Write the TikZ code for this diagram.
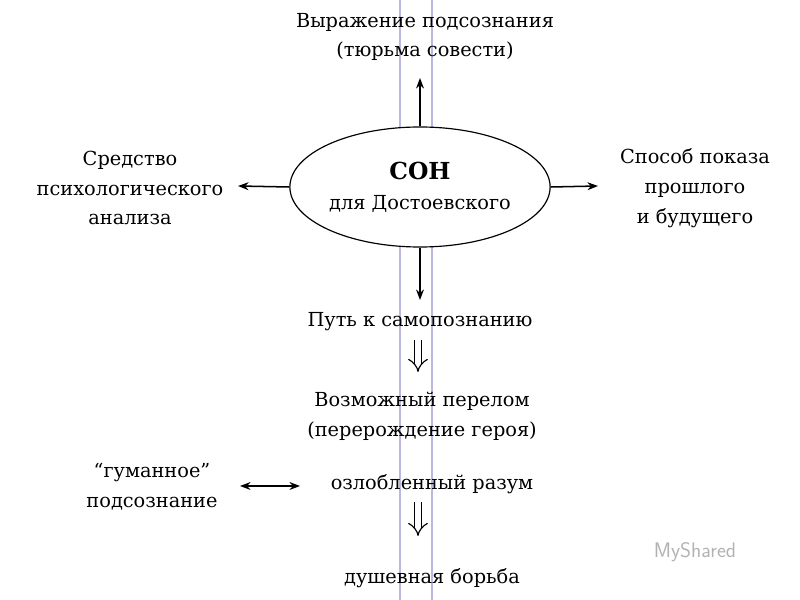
\documentclass[tikz,border=0pt]{standalone}
\usepackage{fontspec}
\setmainfont{DejaVu Serif}
\usetikzlibrary{arrows.meta,positioning,shapes.geometric}
\tikzset{
	lbl/.style={font=\fontsize{16.5}{25.5}\selectfont, align=center, inner sep=1pt},
	arr/.style={line width=1.3pt, -{Stealth[length=9pt]}},
	dbl/.style={double, double distance=5pt, -{Implies}, line width=1pt},
}
\begin{document}
\begin{tikzpicture}[x=0.03cm,y=-0.03cm]
		\def\xMid{420}
		\def\yMid{187}
		\def\xLineA{400}
		\def\xLineB{432}
\useasboundingbox (0,0) rectangle (800,600);
% blue guide lines
\draw[blue!40!gray!40, line width=1.5pt] (\xLineA,0) -- (\xLineA,600);
\draw[blue!40!gray!40, line width=1.5pt] (\xLineB,0) -- (\xLineB,600);

\node[ellipse, draw, line width=1pt, fill=white, minimum width=258*0.03cm, minimum height=120*0.03cm, lbl] (son) at (\xMid,\yMid) {{\fontsize{20}{25.5}\selectfont\textbf{СОН}}\\для Достоевского};

\node[lbl] (top) at (425,37) {Выражение подсознания\\(тюрьма совести)};
\node[lbl] (left) at (130,188) {Средство\\психологического\\анализа};
\node[lbl] (right) at (695,188) {Способ показа\\прошлого\\и будущего};
\node[lbl] (put) at (420,322) {Путь к самопознанию};
\node[lbl] (perelom) at (422,416) {Возможный перелом\\(перерождение героя)};
\node[lbl] (guman) at (152,487) {“гуманное”\\подсознание};
\node[lbl] (razum) at (432,484) {озлобленный разум};
\node[lbl] (borba) at (432,578) {душевная борьба};
\node[font=\fontsize{18}{18}\selectfont\sffamily, text=gray!60] (logo) at (695,552) {MyShared};

\coordinate (upE) at (420,78);
\coordinate (downE) at (420,300);
\coordinate (leftE) at (238,186);
\coordinate (rightE) at (598,186);
\draw[arr] (son.north) -- (upE);
\draw[arr] (son.south) -- (downE);
\draw[arr] (son.west) -- (leftE);
\draw[arr] (son.east) -- (rightE);

\coordinate (dA) at (418,340);
\coordinate (dB) at (418,372);
\coordinate (dC) at (418,502);
\coordinate (dD) at (418,536);
\draw[dbl] (dA) -- (dB);
\draw[dbl] (dC) -- (dD);

\coordinate (hA) at (240,486);
\coordinate (hB) at (300,486);
\draw[line width=1.3pt, {Stealth[length=9pt]}-{Stealth[length=9pt]}] (hA) -- (hB);
\end{tikzpicture}
\end{document}
